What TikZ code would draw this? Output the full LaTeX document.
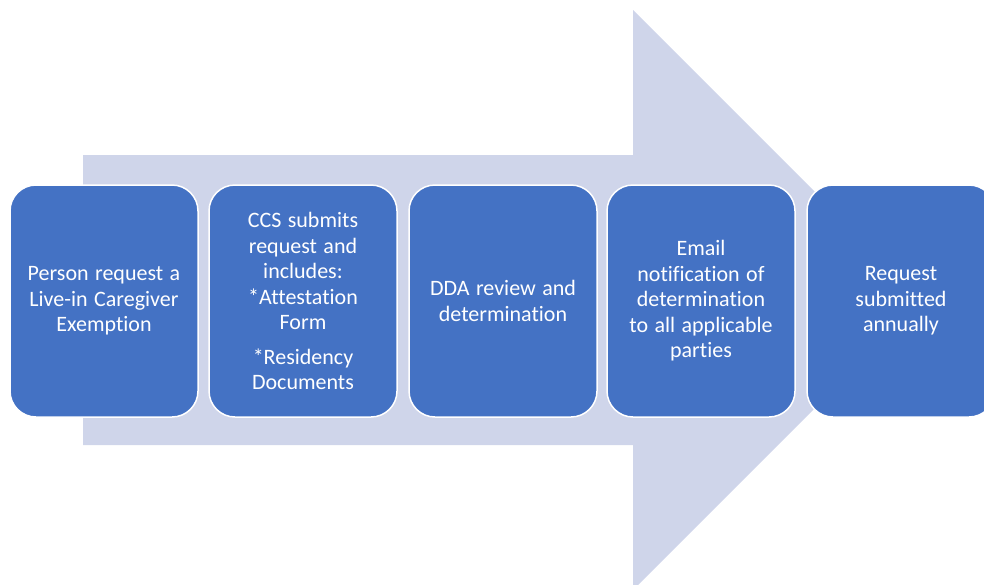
\documentclass[tikz,border=0pt]{standalone}
\usepackage{fontspec}
\setmainfont{Carlito}[Ligatures=NoCommon, WordSpace=1.3]
\definecolor{arrowfill}{HTML}{CFD5EA}
\definecolor{boxfill}{HTML}{4472C4}
\begin{document}
\begin{tikzpicture}[x=1pt,y=-1pt,
  stepbox/.style={draw=white, line width=1.5pt, fill=boxfill, rounded corners=26pt,
    minimum width=188pt, minimum height=232pt, text=white, align=center,
    font=\fontsize{22}{25.5}\selectfont, inner sep=0pt}]
\useasboundingbox (0,0) rectangle (984,584);
\begin{scope}
\clip (0,0) rectangle (984,584);
\fill[arrowfill] (83,155) -- (633,155) -- (633,10) -- (923,300) -- (633,590) -- (633,445) -- (83,445) -- cycle;
\node[stepbox] (s1) at (104,301) {Person request a\\Live-in Caregiver\\Exemption};
\node[stepbox] (s2) at (303,301) {CCS submits\\request and\\includes:\\*Attestation\\Form\\[9pt]*Residency\\Documents};
\node[stepbox] (s3) at (503,301) {DDA review and\\determination};
\node[stepbox] (s4) at (701,301) {Email\\notification of\\determination\\to all applicable\\parties};
\node[stepbox] (s5) at (901,301) {Request\\submitted\\annually};
\end{scope}
\end{tikzpicture}
\end{document}
